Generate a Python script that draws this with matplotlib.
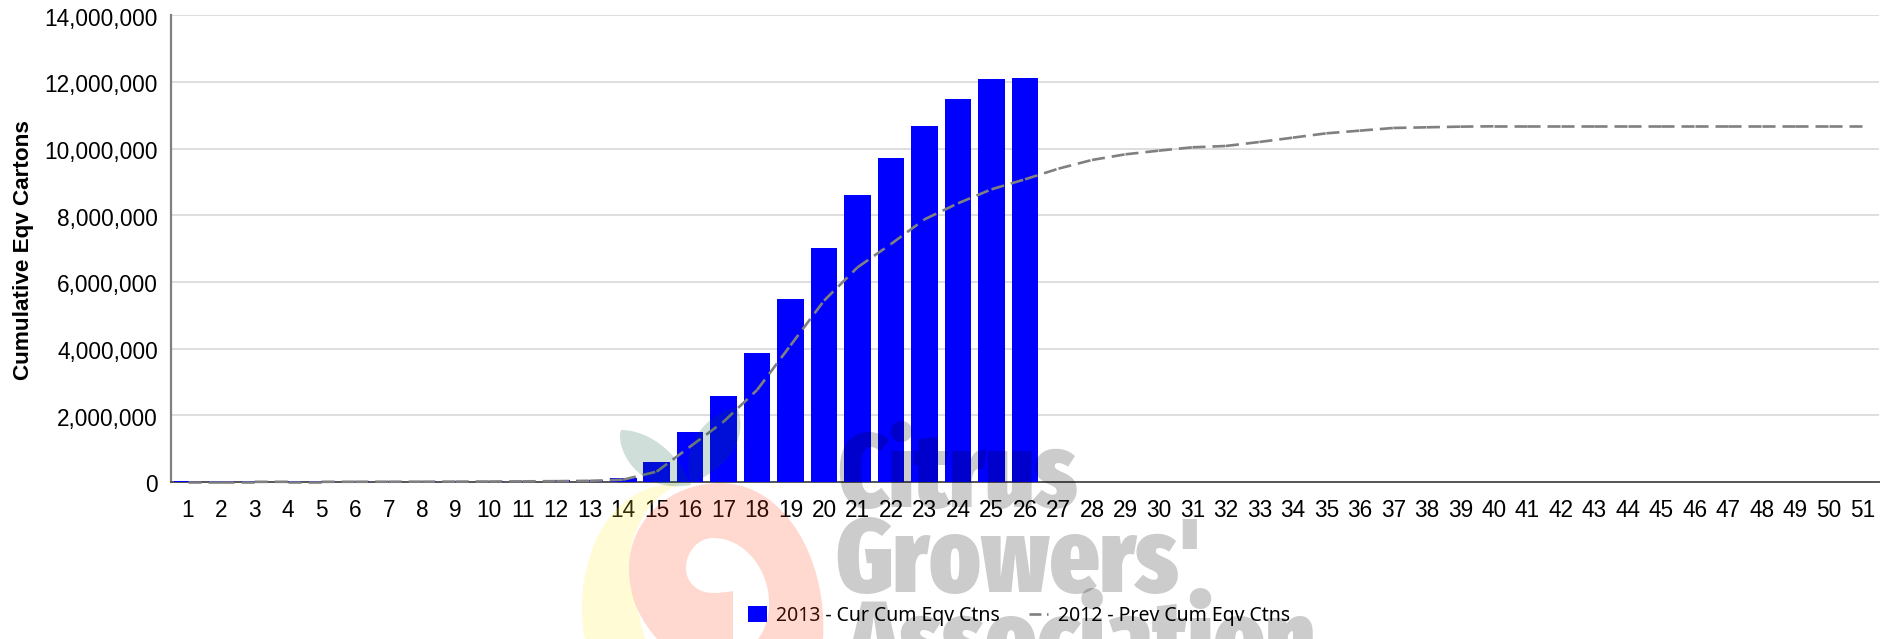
import matplotlib
matplotlib.use("Agg")
import matplotlib.pyplot as plt
from matplotlib.path import Path
from matplotlib.patches import PathPatch
from matplotlib.ticker import FuncFormatter
from matplotlib.transforms import ScaledTranslation

plt.rcParams['font.family'] = ['Liberation Sans', 'DejaVu Sans']
plt.rcParams['lines.scale_dashes'] = False

weeks = list(range(1, 52))

# 2013 - current season, stops at week 26
cur_cum = [15000, 15000, 15000, 16000, 16000, 18000, 18000, 20000, 22000, 28000, 35000, 45000,
           60000, 120000, 600000, 1500000, 2580000, 3870000, 5490000, 7020000, 8600000,
           9710000, 10670000, 11480000, 12080000, 12110000]

# 2012 - previous season
prev_cum = [5000, 5000, 5000, 6000, 6000, 7000, 8000, 10000, 12000, 15000, 20000, 25000,
            35000, 70000, 310000, 1060000, 1810000, 2760000, 4100000, 5440000, 6440000,
            7140000, 7880000, 8360000, 8780000, 9080000, 9400000, 9660000, 9830000, 9940000,
            10040000, 10080000, 10200000, 10330000, 10460000, 10540000, 10620000, 10640000,
            10660000, 10670000, 10670000, 10670000, 10670000, 10670000, 10670000, 10670000,
            10670000, 10670000, 10670000, 10670000, 10670000]

y_ticks = [0, 2000000, 4000000, 6000000, 8000000, 10000000, 12000000, 14000000]

W, H = 1892, 639
fig = plt.figure(figsize=(W / 100, H / 100), dpi=100)
ax = fig.add_axes([171 / W, 1 - 482 / H, (1879 - 171) / W, (482 - 15.3) / H])

ax.set_axisbelow(True)
ax.grid(axis='y', color='#d8d8d8', linewidth=1.2)
bars = ax.bar(weeks[:len(cur_cum)], cur_cum, width=0.8, color='#0000ff', label='2013 - Cur Cum Eqv Ctns', zorder=5.5)

# each segment restarts its dash pattern, as in the original chart
for i in range(len(weeks) - 1):
    ax.plot(weeks[i:i + 2], prev_cum[i:i + 2], color='#808080', linewidth=1.9,
            dashes=(9.4, 5.0), dash_capstyle='butt', zorder=6, clip_on=False)
prev_handle = plt.Line2D([], [], color='#808080', linewidth=1.9, dashes=(8.6, 4.0, 1.5, 4.0),
                         dash_capstyle='butt', label='2012 - Prev Cum Eqv Ctns')

ax.set_xlim(0.5, 51.5)
ax.set_ylim(0, 14000000)
ax.set_xticks(weeks)
ax.set_yticks(y_ticks)
ax.yaxis.set_major_formatter(FuncFormatter(lambda v, p: f"{int(v):,}"))
ax.tick_params(axis='both', length=0, labelsize=16.3, labelcolor='black')
ax.tick_params(axis='x', pad=12)
ax.tick_params(axis='y', pad=9.5)

# y labels sit a touch lower than the gridlines
nudge = ScaledTranslation(0, -1.5 / 100, fig.dpi_scale_trans)
for lab in ax.get_yticklabels():
    lab.set_transform(lab.get_transform() + nudge)

for s in ['top', 'right']:
    ax.spines[s].set_visible(False)
ax.spines['left'].set_color('#808080')
ax.spines['left'].set_linewidth(1.6)
ax.spines['bottom'].set_color('#555555')
ax.spines['bottom'].set_linewidth(1.4)
ax.spines['bottom'].set_zorder(5)

fig.text(23 / W, 1 - 250 / H, 'Cumulative Eqv Cartons', rotation=90, ha='center', va='center',
         fontsize=16.2, fontweight='bold', color='black')

leg = fig.legend(handles=[bars, prev_handle], loc='center', bbox_to_anchor=(1019 / W, 1 - 616 / H),
                 ncol=2, frameon=False, handlelength=0.95, handleheight=0.9, handletextpad=0.5,
                 columnspacing=1.5, prop={'family': 'Noto Sans', 'size': 14})

# watermark logo, sits over everything and tints it (pixel coordinates of the figure)
wm = fig.add_axes([0, 0, 1, 1], facecolor='none', zorder=10)
wm.set_xlim(0, W)
wm.set_ylim(H, 0)
wm.axis('off')

M, L, C = Path.MOVETO, Path.LINETO, Path.CURVE4

def blob(start, segs):
    verts, codes = [start], [M]
    for s in segs:
        if len(s) == 1:
            verts += s
            codes += [L]
        else:
            verts += s
            codes += [C, C, C]
    return Path(verts, codes)

yellow = blob((585, 639), [[(574, 590), (590, 483), (682, 483)],
                           [(650, 495), (629, 530), (629, 568)],
                           [(629, 590), (635, 600), (635, 600)],
                           [(645, 639)]])
red = blob((823, 639), [[(828, 560), (785, 483), (720, 483)],
                        [(670, 483), (629, 520), (629, 568)],
                        [(629, 600), (642, 622), (657, 639)],
                        [(733, 639)], [(733, 591)],
                        [(727, 592), (720, 593), (713, 593)],
                        [(698, 593), (686, 583), (686, 568)],
                        [(686, 552), (698, 538), (713, 538)],
                        [(745, 538), (769, 570), (769, 603)],
                        [(769, 618), (765, 630), (758, 639)]])
leaf_l = blob((691, 485), [[(680, 455), (650, 430), (621, 430)],
                           [(615, 445), (635, 495), (691, 485)]])
leaf_r = blob((691, 483), [[(680, 445), (705, 415), (737, 407)],
                           [(750, 440), (725, 470), (691, 483)]])

wm.add_patch(PathPatch(yellow, facecolor=(1, 0.92, 0.18), edgecolor='none', alpha=0.2))
wm.add_patch(PathPatch(red, facecolor=(1, 0.27, 0.08), edgecolor='none', alpha=0.2))
wm.add_patch(PathPatch(leaf_l, facecolor=(0, 0.32, 0.2), edgecolor='none', alpha=0.19))
wm.add_patch(PathPatch(leaf_r, facecolor=(0, 0.32, 0.2), edgecolor='none', alpha=0.19))

logo_font = ['Fira Sans Extra Condensed', 'Liberation Sans', 'DejaVu Sans']
wm.text(837, 507, 'Citrus', fontsize=75, fontweight='black', family=logo_font,
        color='black', alpha=0.2, ha='left', va='baseline')
wm.text(835, 592, "Growers'", fontsize=75, fontweight='black', family=logo_font,
        color='black', alpha=0.2, ha='left', va='baseline')
wm.text(846, 674, 'Association', fontsize=75, fontweight='black', family=logo_font,
        color='black', alpha=0.2, ha='left', va='baseline', clip_on=False)

fig.savefig('out.png', dpi=100)
